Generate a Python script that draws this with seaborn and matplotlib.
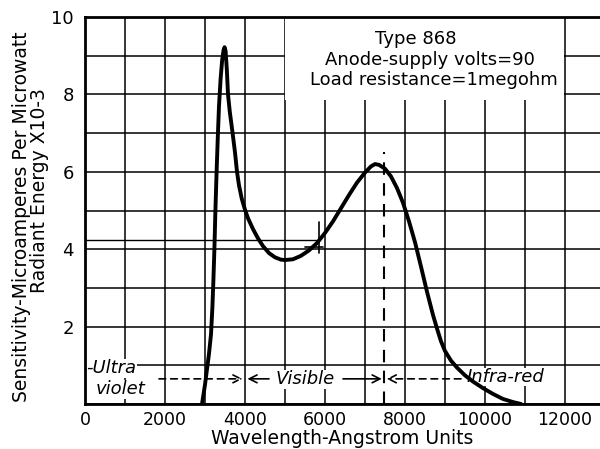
import numpy as np
import pandas as pd
import matplotlib
matplotlib.use("Agg")
import matplotlib.pyplot as plt
from matplotlib.patches import Rectangle
import seaborn as sns

# spectral sensitivity curve (wavelength in Angstrom)
wavelength = [2925, 3000, 3050, 3100, 3150, 3185, 3210, 3235, 3260, 3290, 3320, 3350,
              3390, 3430, 3465, 3490, 3515, 3545, 3575, 3620, 3690, 3750, 3800, 3850,
              3920, 4000, 4075, 4200, 4325, 4450, 4600, 4750, 4900, 5000, 5200, 5400,
              5600, 5800, 6000, 6200, 6400, 6600, 6800, 7000, 7150, 7250, 7350, 7500,
              7650, 7800, 7950, 8100, 8250, 8400, 8550, 8700, 8800, 8900, 9000, 9150,
              9300, 9500, 9700, 9950, 10200, 10450, 10700, 10900]
sensitivity = [0.0, 0.5, 0.9, 1.3, 1.8, 2.5, 3.2, 4.0, 5.0, 6.0, 6.9, 7.7,
               8.4, 8.9, 9.15, 9.22, 9.12, 8.65, 8.0, 7.55, 7.0, 6.5, 6.0, 5.65,
               5.3, 5.02, 4.8, 4.52, 4.28, 4.08, 3.9, 3.79, 3.73, 3.72, 3.74, 3.83,
               3.97, 4.16, 4.42, 4.72, 5.06, 5.4, 5.72, 5.98, 6.14, 6.2, 6.18, 6.08,
               5.88, 5.58, 5.2, 4.72, 4.18, 3.55, 2.9, 2.3, 1.95, 1.62, 1.37, 1.12,
               0.94, 0.74, 0.58, 0.41, 0.26, 0.13, 0.05, 0.0]

x_ticks = [0, 2000, 4000, 6000, 8000, 10000, 12000]
y_ticks = [2, 4, 6, 8, 10]
note_lines = ["Type 868", "Anode-supply volts=90", "Load resistance=1megohm"]
visible_edge = 4000
infrared_edge = 7480

df = pd.DataFrame({"wavelength": wavelength, "sensitivity": sensitivity})

sns.set_style("white")
plt.rcParams["font.family"] = ["DejaVu Sans"]
plt.rcParams["text.color"] = "black"
plt.rcParams["axes.labelcolor"] = "black"
plt.rcParams["xtick.color"] = "black"
plt.rcParams["ytick.color"] = "black"

fig = plt.figure(figsize=(6, 4.49), dpi=100)
ax = fig.add_axes([85 / 600, 1 - 404 / 449, 515 / 600, 387 / 449])

sns.lineplot(data=df, x="wavelength", y="sensitivity", color="black",
             linewidth=2.8, ax=ax, zorder=6)

ax.set_xlim(0, 12875)
ax.set_ylim(0, 10)
ax.set_xticks(x_ticks)
ax.set_xticks(range(0, 13000, 1000), minor=True)
ax.set_yticks(y_ticks)
ax.set_yticks(range(0, 11), minor=True)
ax.set_xticklabels([str(t) for t in x_ticks], fontsize=12.5)
ax.set_yticklabels([str(t) for t in y_ticks], fontsize=13)
ax.tick_params(which="both", length=0, pad=5)
ax.tick_params(axis="y", pad=8)
ax.grid(True, which="both", color="black", linewidth=1.1)
ax.set_axisbelow(True)
ax.set_xlabel("Wavelength-Angstrom Units", fontsize=13.5, labelpad=0)
ax.set_ylabel("")

for side in ["left", "bottom", "top"]:
    ax.spines[side].set_linewidth(2)
    ax.spines[side].set_color("black")
    ax.spines[side].set_zorder(5)
ax.spines["right"].set_visible(False)

# blank the grid behind the note
ax.add_patch(Rectangle((5000, 7.85), 6970, 2.15, facecolor="white",
                       edgecolor="none", zorder=1))
ax.text(8280, 9.42, note_lines[0], ha="center", va="center", fontsize=13, zorder=5)
ax.text(8625, 8.9, note_lines[1], ha="center", va="center", fontsize=13, zorder=5)
ax.text(8725, 8.38, note_lines[2], ha="center", va="center", fontsize=13, zorder=5)

# marker line and cross near the valley
ax.plot([0, 5850], [4.25, 4.25], color="black", linewidth=1, zorder=2)
ax.plot([5850, 5850], [3.9, 4.7], color="black", linewidth=1.2, zorder=3)
ax.plot([5500, 5950], [4.05, 4.05], color="black", linewidth=1.2, zorder=3)

# boundary between visible and infra-red
ax.plot([infrared_edge, infrared_edge], [0, 6.5], color="black", linewidth=1.5,
        linestyle=(0, (6, 4)), zorder=3)

box = dict(facecolor="white", edgecolor="none", pad=0.3)
ax.text(40, 0.92, "-Ultra", style="italic", fontsize=13, ha="left", va="center",
        bbox=box, zorder=3)
ax.text(280, 0.38, "violet", style="italic", fontsize=13, ha="left", va="center",
        bbox=box, zorder=3)
ax.text(5500, 0.64, "Visible", style="italic", fontsize=13, ha="center", va="center",
        bbox=box, zorder=3)
ax.text(9550, 0.7, "Infra-red", style="italic", fontsize=13, ha="left", va="center",
        bbox=box, zorder=3)

dash = dict(arrowstyle="->", color="black", linewidth=1.2, linestyle=(0, (4, 3)),
            mutation_scale=14, shrinkA=0, shrinkB=0)
solid = dict(arrowstyle="->", color="black", linewidth=1.2, mutation_scale=14,
             shrinkA=0, shrinkB=0)
ax.annotate("", xy=(visible_edge - 60, 0.65), xytext=(1850, 0.65), arrowprops=dash, zorder=3)
ax.annotate("", xy=(visible_edge + 60, 0.65), xytext=(4600, 0.65), arrowprops=solid, zorder=3)
ax.annotate("", xy=(infrared_edge - 60, 0.65), xytext=(6450, 0.65), arrowprops=solid, zorder=3)
ax.annotate("", xy=(infrared_edge + 60, 0.65), xytext=(9400, 0.65), arrowprops=dash, zorder=3)

fig.text(22 / 600, 1 - 217 / 449, "Sensitivity-Microamperes Per Microwatt",
         rotation=90, ha="center", va="center", fontsize=13.5)
fig.text(40 / 600, 1 - 191 / 449, "Radiant Energy X10-3",
         rotation=90, ha="center", va="center", fontsize=13.5)

plt.savefig("out.png", dpi=100)
